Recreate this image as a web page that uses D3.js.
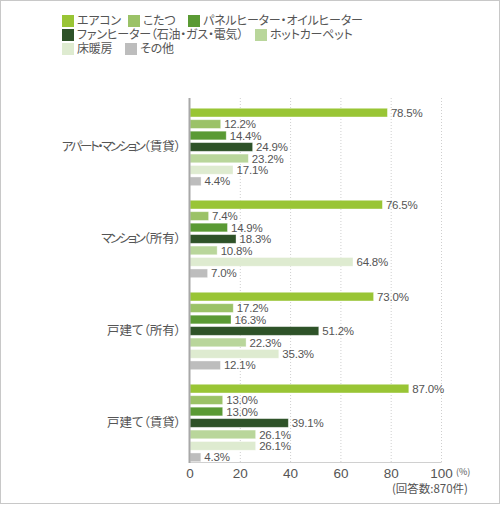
<!DOCTYPE html>
<html><head><meta charset="utf-8">
<script src="https://cdn.jsdelivr.net/npm/d3@7"></script>
<style>
html,body{margin:0;padding:0;background:#fff;}
svg{display:block;}
text{font-family:"Liberation Sans","Noto Sans CJK JP",sans-serif;}
.jp{font-family:"Noto Sans CJK JP",sans-serif;font-feature-settings:"palt";}
</style></head>
<body>
<script>
const categories = ["アパート・マンション（賃貸）","マンション（所有）","戸建て（所有）","戸建て（賃貸）"];
const seriesNames = ["エアコン","こたつ","パネルヒーター・オイルヒーター","ファンヒーター（石油・ガス・電気）","ホットカーペット","床暖房","その他"];
const seriesColors = ["#99c535","#9bc267","#5a9a34","#2e5228","#b9d69b","#deebd0","#bdbdbd"];
const values = [
  [78.5,12.2,14.4,24.9,23.2,17.1,4.4],
  [76.5,7.4,14.9,18.3,10.8,64.8,7.0],
  [73.0,17.2,16.3,51.2,22.3,35.3,12.1],
  [87.0,13.0,13.0,39.1,26.1,26.1,4.3]
];
const xTicks = [0,20,40,60,80,100];
const unitLabel = "(%)";
const noteLabel = "(回答数:870件)";

const W=500,H=505;
const svg=d3.select("body").append("svg").attr("width",W).attr("height",H);
svg.append("rect").attr("x",0.5).attr("y",0.5).attr("width",W-1).attr("height",H-2)
  .attr("fill","#fff").attr("stroke","#c8c8c8");

const x=d3.scaleLinear().domain([0,100]).range([190,441.5]);
const y0=d3.scaleBand().domain(categories).range([106.9,106.9+92*4]);
const y1=d3.scaleBand().domain(seriesNames).range([0,80.15]).paddingInner(0.24).paddingOuter(0.12);
const plotTop=98, plotBottom=462;

// grid
svg.append("g").selectAll("line").data(xTicks.filter(d=>d>0)).join("line")
  .attr("x1",d=>x(d)).attr("x2",d=>x(d)).attr("y1",plotTop).attr("y2",plotBottom)
  .attr("stroke","#cfcfcf").attr("stroke-width",1).attr("stroke-dasharray","1,2");
// bottom line
svg.append("line").attr("x1",x(0)).attr("x2",x(100)).attr("y1",plotBottom+0.5).attr("y2",plotBottom+0.5)
  .attr("stroke","#d0d0d0");

// bars
const groups=svg.append("g").selectAll("g").data(categories).join("g")
  .attr("transform",c=>`translate(0,${y0(c)})`);
groups.each(function(c,i){
  const g=d3.select(this);
  const rows=values[i].map((v,j)=>({v,name:seriesNames[j],color:seriesColors[j]}));
  g.selectAll("rect").data(rows).join("rect")
    .attr("x",x(0)).attr("y",d=>y1(d.name)).attr("width",d=>x(d.v)-x(0)).attr("height",y1.bandwidth())
    .attr("fill",d=>d.color).attr("stroke","#ffffff").attr("stroke-opacity",0.45).attr("stroke-width",0.8);
  g.selectAll("text").data(rows).join("text")
    .attr("x",d=>x(d.v)+3.5).attr("y",d=>y1(d.name)+y1.bandwidth()/2).attr("dy","0.36em")
    .attr("font-size","11.5px").attr("fill","#555").attr("letter-spacing","-0.2px")
    .text(d=>d.v.toFixed(1)+"%");
});

// category labels (katakana set tighter, as in the reference typesetting)
const isKana=ch=>/[\u30A0-\u30FF]/.test(ch);
const catText=svg.append("g").selectAll("text").data(categories).join("text")
  .attr("class","jp").attr("x",181).attr("y",c=>y0(c)+40.07).attr("dy","0.36em")
  .attr("text-anchor","end").attr("font-size","12.5px").attr("fill","#555");
catText.each(function(c){
  const t=d3.select(this);
  Array.from(c).forEach(ch=>{
    t.append("tspan").attr("letter-spacing",isKana(ch)?"-2.4px":"0px").text(ch);
  });
});

// y axis line
svg.append("line").attr("x1",189.5).attr("x2",189.5).attr("y1",plotTop).attr("y2",plotBottom+1)
  .attr("stroke","#a8a8a8").attr("stroke-width",2);

// x tick labels
svg.append("g").selectAll("text").data(xTicks).join("text")
  .attr("x",d=>x(d)).attr("y",477.5).attr("text-anchor","middle")
  .attr("font-size","13.5px").attr("fill","#555").text(d=>d);
svg.append("text").attr("class","jp").attr("x",456).attr("y",475).attr("font-size","9px").attr("fill","#555").text(unitLabel);
svg.append("text").attr("class","jp").attr("x",468).attr("y",493).attr("text-anchor","end")
  .attr("font-size","11.5px").attr("fill","#555").text(noteLabel);

// legend
const legendPos=[[62,0],[128,0],[188,0],[62,1],[255,1],[62,2],[125,2]];
const lg=svg.append("g").selectAll("g").data(seriesNames).join("g")
  .attr("transform",(d,i)=>`translate(${legendPos[i][0]},${15+legendPos[i][1]*14})`);
lg.append("rect").attr("width",12).attr("height",12).attr("fill",(d,i)=>seriesColors[i]);
lg.append("text").attr("class","jp").attr("x",15).attr("y",6).attr("dy","0.36em")
  .attr("font-size","12px").attr("fill","#555").attr("letter-spacing","-0.2px").text(d=>d);
</script>
</body></html>
